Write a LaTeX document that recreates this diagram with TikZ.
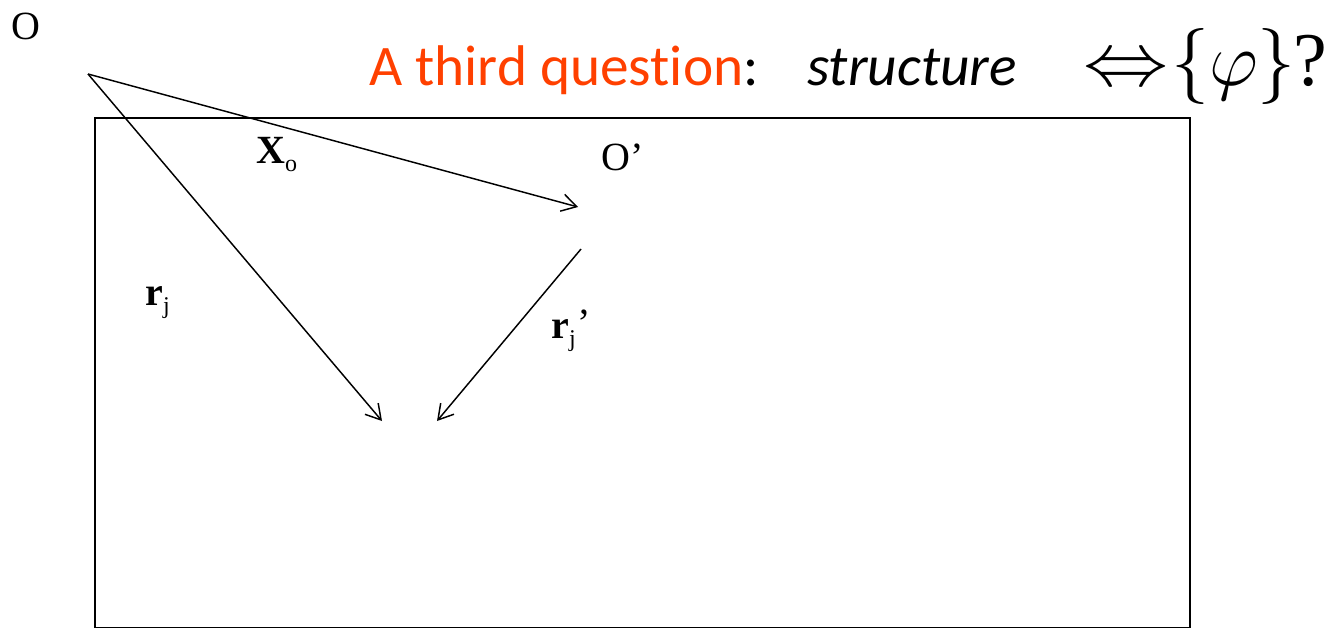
\RequirePackage{fix-cm}
\documentclass[tikz,border=0pt]{standalone}
\usepackage{fontspec}
\setmainfont{Liberation Serif}
\newfontfamily\calibri[Ligatures={NoCommon}]{Carlito}
\usepackage{xcolor}
\usepackage{graphicx}
\usetikzlibrary{arrows.meta}

\definecolor{titlered}{RGB}{255,64,0}
\newcommand{\lowidx}[1]{\raisebox{-0.45ex}{\fontsize{18}{19}\selectfont #1}}
\newcommand{\primemark}{\kern1pt\raisebox{0.1ex}{’}}

\begin{document}
\begin{tikzpicture}[x=0.75pt,y=0.75pt,yscale=-1,xscale=1,
	vec/.style={line width=1.1pt,-{Straight Barb[length=11pt,width=13pt]}},
	lbl/.style={inner sep=0pt,font=\fontsize{30}{32}\selectfont}]
					\useasboundingbox (0,0) rectangle (1337,629);
					
					%Shape: Rectangle
					\draw [line width=1.1pt] (95,118) rectangle (1190,627.5);
					
					%Points
					\coordinate (orig) at (88,74);
					\coordinate (prime) at (578,207);
					\coordinate (primestart) at (581,249);
					\coordinate (rjend) at (382,421);
					\coordinate (rjpend) at (437,421);
					
					%Straight Lines
					\draw [vec] (orig) -- (prime);
					\draw [vec] (orig) -- (rjend);
					\draw [vec] (primestart) -- (rjpend);
					
					% Text Node
					\node [lbl] (olab) at (26,26) {O};
					% Text Node
					\node [lbl,anchor=base west] (xlab) at (256,163) {\textbf{X}\lowidx{o}};
					% Text Node
					\node [lbl,anchor=base west] (oplab) at (601,170) {O’};
					% Text Node
					\node [lbl,anchor=base west] (rjlab) at (145,305) {\textbf{r}\lowidx{j}};
					% Text Node
					\node [lbl,anchor=base west] (rjplab) at (551,338) {\textbf{r}\lowidx{j}\primemark};
					
					% Title
					\node [anchor=base west,inner sep=0pt,font=\calibri\fontsize{43}{45}\selectfont] (title) at (369,85) {\textcolor{titlered}{A third question}:};
					\node [anchor=base west,inner sep=0pt,font=\calibri\itshape\fontsize{43}{45}\selectfont] (struct) at (807,85) {structure};
					\node [anchor=base west,inner sep=0pt,font=\fontsize{57}{60}\selectfont] (equiv) at (1083,85) {\scalebox{1.12}[1]{$\Leftrightarrow$}\kern2pt$\{\varphi\}$\kern-2pt?};
					
\end{tikzpicture}
\end{document}
